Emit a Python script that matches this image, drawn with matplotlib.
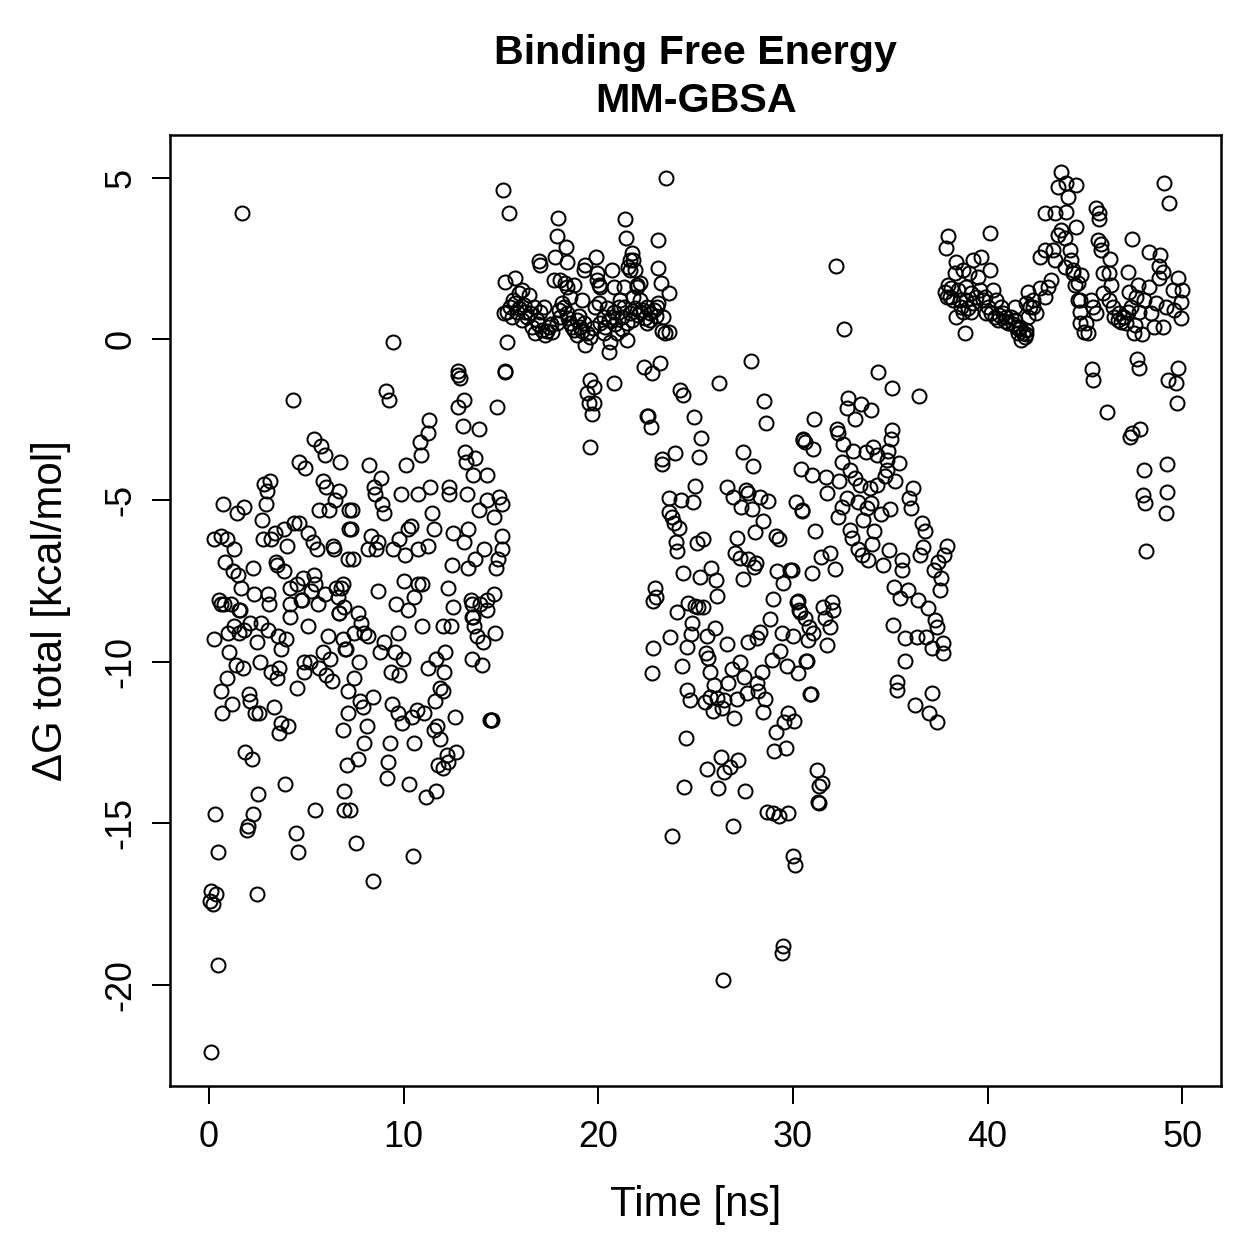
import matplotlib
matplotlib.use("Agg")
import matplotlib.pyplot as plt

# MM-GBSA binding free energy per frame
# (time in ns, dG in kcal/mol), split in the four phases of the trajectory

# 0 - 7 ns
fase1 = [
    (0.10, -22.1), (0.46, -19.4), (0.10, -17.1), (0.36, -17.2), (0.05, -17.4), (0.21, -17.5), (2.46, -17.2), (0.46, -15.9),
    (0.31, -14.7), (1.95, -15.2), (2.00, -15.1), (2.26, -14.7), (2.51, -14.1), (3.90, -13.8), (4.46, -15.3), (4.56, -15.9),
    (5.44, -14.6), (1.85, -12.8), (2.21, -13.0), (0.67, -11.6), (1.18, -11.3), (0.62, -10.9), (0.92, -10.5), (2.05, -11.0),
    (2.10, -11.2), (2.36, -11.6), (2.56, -11.6), (3.33, -11.4), (3.69, -11.9), (4.05, -12.0), (3.59, -12.2), (4.51, -10.8),
    (0.26, -9.3), (1.03, -9.7), (1.38, -10.1), (1.74, -10.2), (2.62, -10.0), (3.18, -10.3), (3.49, -10.5), (3.59, -10.2),
    (3.69, -9.6), (3.95, -9.3), (3.54, -9.2), (3.03, -9.0), (2.67, -8.8), (2.46, -9.4), (2.10, -8.8), (1.79, -9.0),
    (1.54, -9.1), (1.28, -8.9), (0.97, -9.1), (1.54, -8.4), (1.13, -8.2), (0.62, -8.2), (3.08, -8.2), (4.15, -8.2),
    (4.15, -8.6), (4.72, -8.1), (5.08, -8.9), (4.87, -10.0), (4.87, -10.3), (5.18, -10.0), (5.64, -10.2), (6.00, -10.4),
    (6.31, -10.6), (5.85, -9.7), (6.21, -9.9), (6.10, -9.2), (5.59, -8.2), (6.67, -8.5), (6.92, -8.3), (6.87, -9.3),
    (6.97, -9.6), (7.13, -10.9), (7.13, -11.6), (6.87, -12.1), (7.08, -13.2), (6.92, -14.0), (6.92, -14.6), (1.69, 3.9),
    (4.31, -1.9), (5.38, -3.1), (5.74, -3.3), (5.95, -3.6), (6.72, -3.8), (4.62, -3.8), (4.92, -4.0), (5.85, -4.4),
    (6.00, -4.6), (6.67, -4.7), (6.46, -5.0), (3.13, -4.4), (2.82, -4.5), (2.97, -4.7), (2.92, -5.1), (2.72, -5.6),
    (0.72, -5.1), (1.79, -5.2), (1.44, -5.4), (5.64, -5.3), (6.15, -5.3), (7.18, -5.3), (7.18, -5.9), (0.26, -6.2),
    (0.62, -6.1), (0.92, -6.2), (1.28, -6.5), (2.77, -6.2), (3.18, -6.2), (3.38, -6.0), (3.85, -5.9), (4.00, -6.4),
    (4.36, -5.7), (4.62, -5.7), (5.08, -6.0), (5.33, -6.3), (5.54, -6.5), (6.36, -6.4), (6.41, -6.5), (7.13, -6.8),
    (0.82, -6.9), (1.23, -7.2), (1.49, -7.3), (2.26, -7.1), (3.44, -6.9), (3.49, -7.0), (3.85, -7.2), (4.15, -7.7),
    (4.51, -7.6), (4.82, -7.4), (5.38, -7.3), (5.44, -7.6), (1.64, -7.7), (2.31, -7.9), (3.03, -7.9), (0.51, -8.1),
    (0.77, -8.2), (1.59, -8.4), (4.77, -8.1), (5.23, -7.8), (5.95, -7.9), (6.62, -8.0), (6.51, -7.7), (6.77, -7.7),
    (6.67, -8.5),
]

# 7 - 15 ns
fase1b = [
    (7.44, -9.1), (7.95, -9.1), (8.15, -9.2), (7.03, -9.6), (7.69, -10.0), (7.44, -10.5), (7.74, -11.2), (7.90, -11.4),
    (8.41, -11.1), (8.10, -12.0), (7.95, -12.5), (7.64, -13.0), (7.23, -14.6), (7.54, -15.6), (8.41, -16.8), (9.69, -9.1),
    (8.97, -9.4), (8.77, -9.7), (9.54, -9.7), (9.95, -9.9), (9.33, -10.3), (9.74, -10.4), (9.38, -11.3), (9.69, -11.6),
    (9.90, -11.9), (10.41, -11.7), (10.67, -11.5), (11.03, -11.6), (9.28, -12.5), (9.18, -13.1), (9.13, -13.6), (10.26, -13.8),
    (10.56, -12.5), (10.46, -16.0), (11.23, -10.2), (11.64, -9.9), (12.15, -9.7), (12.10, -10.3), (11.85, -10.8), (12.05, -10.9),
    (11.59, -11.2), (11.54, -12.1), (11.74, -12.0), (11.85, -12.4), (12.62, -11.7), (12.21, -12.9), (12.67, -12.8), (12.26, -13.1),
    (11.79, -13.2), (12.00, -13.3), (11.69, -14.0), (11.13, -14.2), (13.54, -9.9), (14.05, -10.1), (13.59, -8.6), (13.64, -8.9),
    (13.79, -9.2), (14.10, -9.4), (13.54, -8.2), (14.31, -8.4), (14.72, -9.1), (14.51, -11.8), (14.46, -11.8), (14.56, -11.8),
    (10.97, -8.9), (12.00, -8.9), (12.46, -8.9), (12.56, -8.3), (10.21, -8.4), (9.59, -8.2), (7.64, -8.5), (7.79, -8.8),
    (6.87, -7.6), (8.67, -7.8), (10.00, -7.5), (10.72, -7.6), (10.97, -7.6), (10.56, -8.0), (12.26, -7.7), (13.44, -8.1),
    (13.95, -8.2), (14.31, -8.1), (14.67, -7.9), (13.54, -8.6), (7.38, -6.8), (8.31, -6.1), (8.67, -6.3), (8.15, -6.5),
    (8.56, -6.5), (9.44, -6.5), (9.79, -6.2), (10.05, -6.7), (10.21, -5.9), (10.36, -5.8), (10.72, -6.5), (11.28, -6.4),
    (11.54, -5.9), (12.56, -6.0), (13.08, -6.3), (13.33, -5.9), (12.51, -7.0), (13.33, -7.1), (13.69, -6.8), (14.15, -6.5),
    (15.08, -6.1), (15.08, -6.5), (14.87, -6.8), (14.77, -7.1), (7.33, -5.3), (7.28, -5.9), (8.21, -3.9), (8.82, -4.3),
    (8.46, -4.6), (8.51, -4.8), (8.87, -5.1), (8.97, -5.4), (9.85, -4.8), (10.72, -4.8), (11.38, -4.6), (12.31, -4.6),
    (12.31, -4.8), (13.28, -4.8), (14.26, -5.0), (14.92, -4.9), (15.03, -5.1), (13.85, -5.3), (14.62, -5.5), (11.44, -5.4),
    (10.10, -3.9), (9.44, -0.1), (9.08, -1.6), (9.23, -1.9), (12.77, -1.0), (12.82, -1.1), (12.92, -1.2), (12.82, -2.1),
    (13.08, -1.9), (11.33, -2.5), (11.23, -2.9), (10.82, -3.2), (10.92, -3.6), (13.03, -2.7), (13.85, -2.8), (13.13, -3.5),
    (13.23, -3.8), (13.69, -3.7), (13.59, -4.2), (14.31, -4.2), (14.82, -2.1), (15.23, -1.0), (15.33, -0.1),
]

# 15 - 24 ns (bound state)
fase2 = [
    (15.13, 4.6), (15.44, 3.9), (15.23, 1.75), (15.74, 1.88), (15.31, 0.85), (15.14, 0.80), (15.49, 1.0), (15.74, 1.1),
    (15.91, 1.42), (16.08, 1.52), (16.43, 1.36), (15.57, 0.69), (15.83, 0.85), (16.17, 1.05), (16.34, 0.69), (16.51, 0.8),
    (16.08, 0.59), (16.68, 1.0), (17.02, 0.85), (17.19, 1.0), (16.85, 0.59), (16.60, 0.38), (16.77, 0.18), (17.11, 0.28),
    (17.28, 0.12), (17.45, 0.38), (17.62, 0.23), (17.88, 0.49), (18.05, 0.69), (18.22, 1.0), (18.39, 0.8), (18.56, 0.49),
    (18.73, 0.28), (18.90, 0.59), (19.08, 0.38), (19.25, 0.49), (19.42, 0.18), (19.59, 0.07), (19.33, -0.19), (18.90, 0.12),
    (18.65, 0.38), (19.93, 1.83), (20.10, 1.62), (20.02, 1.11), (19.84, 1.0), (20.27, 0.69), (20.10, 0.49), (20.36, 0.38),
    (20.53, 0.59), (20.70, 0.69), (20.27, 0.18), (20.61, -0.08), (20.53, -0.39), (20.96, 0.18), (20.79, 0.85), (21.04, 1.0),
    (21.13, 1.21), (21.30, 1.0), (21.21, 0.69), (21.47, 0.49), (21.47, -0.03), (21.64, 0.8), (21.81, 1.31), (21.98, 1.62),
    (22.15, 1.21), (22.32, 0.9), (22.49, 1.0), (22.67, 0.8), (22.84, 0.9), (22.49, 0.49), (23.01, 1.0), (23.09, 1.11),
    (23.35, 0.69), (23.43, 0.18), (23.61, 0.23), (22.67, 0.59), (22.15, 0.85), (21.90, 0.95), (21.64, 2.14), (21.55, 2.24),
    (21.61, 2.45), (18.56, 1.31), (19.16, 1.21), (18.14, 1.11), (18.39, 1.62), (18.73, 1.67), (18.05, 1.83), (17.71, 1.83),
    (18.31, 1.72), (20.02, 1.67), (20.79, 1.62), (21.30, 1.62), (21.98, 1.67), (22.15, 1.72), (23.09, 2.19), (23.23, 1.72),
    (23.61, 1.41), (17.79, 2.53), (18.39, 2.37), (16.94, 2.42), (16.99, 2.29), (19.90, 2.53), (19.30, 2.29), (19.25, 2.14),
    (20.70, 2.14), (19.93, 2.03), (21.73, 2.65), (21.81, 2.45), (21.90, 2.14), (17.88, 3.19), (18.36, 2.84), (21.40, 3.14),
    (23.09, 3.07), (17.93, 3.76), (21.38, 3.71), (23.49, 4.98), (15.60, 1.20), (15.95, 0.95), (16.25, 0.85), (16.90, 0.45),
    (17.35, 0.25), (17.55, 0.45), (18.00, 0.90), (18.45, 0.65), (19.00, 0.70), (19.15, 0.25), (19.75, 0.35), (20.45, 0.95),
    (20.85, 0.45), (21.20, 0.30), (21.75, 0.60), (22.05, 0.75), (22.40, 0.65), (22.95, 0.70), (23.25, 0.25), (15.23, -1.01),
    (19.59, -1.27), (19.76, -1.48), (19.42, -1.68), (19.50, -1.99), (19.79, -1.99), (19.67, -2.33), (19.59, -3.36), (20.82, -1.37),
    (22.36, -0.88), (22.75, -1.06), (23.18, -0.73), (22.53, -2.39), (22.70, -2.72), (23.26, -3.73),
]

# 23.5 - 38 ns (unbinding)
fase3 = [
    (27.85, -0.68), (26.21, -1.36), (28.51, -1.92), (28.62, -2.60), (24.92, -2.42), (25.28, -3.07), (27.44, -3.50), (27.95, -3.93),
    (30.51, -3.13), (30.41, -4.03), (24.97, -4.55), (26.62, -4.58), (23.64, -4.93), (24.26, -4.99), (24.87, -5.05), (26.92, -4.89),
    (27.59, -4.68), (27.69, -4.77), (28.31, -4.89), (28.72, -5.02), (27.33, -5.20), (27.90, -5.27), (28.46, -5.64), (30.15, -5.05),
    (30.46, -5.33), (23.64, -5.36), (23.79, -5.51), (23.90, -5.70), (24.15, -5.86), (28.05, -5.98), (29.13, -6.10), (29.28, -6.20),
    (27.13, -6.16), (25.08, -6.32), (25.38, -6.20), (24.00, -6.29), (24.05, -6.57), (27.03, -6.63), (27.28, -6.78), (27.69, -6.82),
    (28.10, -6.94), (28.00, -7.06), (25.79, -7.09), (25.23, -7.37), (26.05, -7.47), (27.44, -7.43), (24.36, -7.25), (29.18, -7.19),
    (29.85, -7.16), (29.49, -7.56), (26.10, -7.96), (28.97, -8.05), (22.92, -7.71), (22.97, -7.99), (22.82, -8.12), (30.26, -8.12),
    (24.05, -8.46), (24.62, -8.18), (24.97, -8.27), (25.13, -8.30), (25.38, -8.30), (30.36, -8.46), (24.82, -8.80), (26.00, -8.95),
    (23.69, -9.23), (24.77, -9.14), (25.59, -9.20), (28.31, -9.08), (28.82, -8.67), (29.44, -9.11), (30.00, -9.20), (26.62, -9.45),
    (27.69, -9.39), (28.15, -9.26), (22.82, -9.57), (24.56, -9.54), (25.54, -9.73), (25.64, -9.88), (29.33, -9.67), (28.92, -9.94),
    (30.67, -9.98), (24.31, -10.13), (29.69, -10.13), (30.26, -10.35), (22.77, -10.35), (25.74, -10.32), (26.87, -10.22), (27.28, -10.01),
    (27.49, -10.47), (28.41, -10.32), (26.67, -10.66), (28.15, -10.66), (25.95, -10.72), (24.56, -10.87), (27.64, -10.97), (24.72, -11.18),
    (25.49, -11.25), (25.74, -11.09), (26.10, -11.12), (26.46, -11.18), (25.90, -11.52), (26.36, -11.43), (27.13, -11.15), (28.21, -10.90),
    (28.56, -11.15), (28.46, -11.56), (26.97, -11.74), (29.74, -11.59), (29.54, -11.87), (30.05, -11.83), (29.13, -12.17), (24.51, -12.36),
    (29.64, -12.67), (29.03, -12.76), (26.31, -12.95), (27.18, -13.04), (25.59, -13.32), (26.46, -13.41), (26.77, -13.26), (24.41, -13.88),
    (26.15, -13.91), (27.54, -14.00), (28.67, -14.65), (28.97, -14.68), (29.28, -14.78), (29.74, -14.68), (26.92, -15.09), (23.79, -15.40),
    (26.41, -19.86), (29.49, -18.80), (29.44, -19.02), (30.00, -16.02), (30.10, -16.29), (31.23, -13.35), (31.49, -13.75), (31.33, -13.85),
    (31.28, -14.34), (31.33, -14.37), (30.87, -11.00), (23.28, -3.87), (23.95, -3.53), (24.21, -1.58), (24.36, -1.73), (22.51, -2.39),
    (25.18, -3.66),
    (32.21, 2.26), (32.62, 0.31), (34.36, -1.02), (35.08, -1.52), (36.46, -1.77), (32.82, -1.83), (32.77, -2.14), (33.49, -2.01),
    (34.00, -2.20), (33.18, -2.48), (31.08, -2.48), (32.26, -2.79), (32.31, -2.91), (35.08, -2.82), (35.03, -3.10), (30.51, -3.10),
    (30.62, -3.19), (31.03, -3.41), (32.56, -3.25), (33.08, -3.47), (33.74, -3.50), (34.10, -3.35), (34.31, -3.59), (34.87, -3.47),
    (34.82, -3.75), (35.44, -3.84), (32.51, -3.81), (32.92, -4.06), (30.97, -4.21), (31.69, -4.28), (32.36, -4.40), (33.18, -4.31),
    (33.44, -4.52), (33.95, -4.62), (34.31, -4.52), (34.72, -4.24), (34.82, -4.06), (35.23, -4.40), (36.15, -4.62), (35.95, -4.93),
    (36.05, -5.24), (31.74, -4.77), (30.46, -5.30), (31.13, -5.95), (32.77, -4.93), (32.51, -5.20), (32.31, -5.51), (33.33, -5.05),
    (33.79, -5.24), (34.00, -5.08), (34.51, -5.42), (34.97, -5.27), (34.15, -5.95), (32.92, -5.92), (33.59, -5.61), (33.03, -6.16),
    (33.33, -6.51), (33.54, -6.69), (33.85, -6.85), (34.05, -6.35), (34.62, -7.00), (34.92, -6.54), (36.62, -5.70), (36.77, -5.95),
    (36.67, -6.44), (36.51, -6.69), (37.90, -6.41), (37.74, -6.69), (37.44, -6.91), (31.90, -6.63), (31.44, -6.75), (32.15, -7.13),
    (30.97, -7.25), (29.95, -7.16), (35.59, -6.85), (35.59, -7.16), (35.18, -7.68), (35.90, -7.78), (35.49, -8.02), (36.41, -8.09),
    (36.92, -8.33), (37.23, -7.16), (37.59, -7.40), (37.54, -7.78), (37.28, -8.70), (37.38, -8.92), (35.13, -8.86), (35.74, -9.26),
    (36.36, -9.23), (36.82, -9.23), (37.13, -9.57), (37.69, -9.42), (37.69, -9.73), (35.74, -9.98), (35.33, -10.63), (35.33, -10.87),
    (36.26, -11.34), (37.13, -10.97), (36.97, -11.59), (37.38, -11.86), (30.21, -8.15), (30.31, -8.40), (30.62, -8.64), (30.82, -8.92),
    (31.54, -8.30), (32.00, -8.15), (32.05, -8.40), (31.64, -8.64), (31.90, -8.92), (31.03, -9.11), (30.77, -9.32), (31.74, -9.48),
    (30.72, -9.98), (30.92, -11.00),
]

# 38 - 50 ns (rebinding)
fase4 = [
    (37.97, 3.19), (37.88, 2.81), (40.14, 3.27), (38.36, 2.40), (39.25, 2.45), (39.68, 2.55), (40.11, 2.14), (38.31, 2.03),
    (38.74, 2.14), (39.05, 2.03), (39.51, 1.93), (37.97, 1.67), (38.06, 1.31), (38.48, 1.52), (38.91, 1.62), (39.17, 1.42),
    (39.59, 1.52), (39.85, 1.31), (40.28, 1.52), (40.45, 1.21), (38.40, 0.69), (38.82, 0.18), (38.74, 0.85), (39.17, 0.85),
    (39.94, 0.80), (40.71, 1.0), (40.96, 0.69), (41.39, 1.0), (41.39, 0.59), (41.65, 0.38), (41.82, 0.18), (41.73, -0.03),
    (41.99, 0.28), (42.07, 1.47), (41.99, 1.11), (42.33, 1.0), (42.50, 0.80), (42.67, 1.57), (42.93, 1.31), (43.10, 1.62),
    (43.27, 1.83), (42.67, 2.55), (42.93, 2.76), (43.35, 2.76), (43.44, 2.45), (43.61, 3.22), (43.78, 3.38), (43.95, 3.12),
    (42.93, 3.89), (43.44, 3.89), (44.04, 3.94), (43.78, 5.18), (43.61, 4.72), (44.04, 4.82), (44.55, 4.77), (44.12, 4.41),
    (44.21, 2.76), (44.29, 2.45), (43.95, 2.24), (44.38, 2.03), (44.55, 3.48), (44.47, 1.67), (44.64, 1.21), (44.72, 0.85),
    (44.76, 0.49), (37.80, 1.47), (37.90, 1.31), (38.14, 1.57), (38.23, 1.21), (38.57, 1.21), (38.65, 1.0), (38.91, 1.21),
    (39.00, 0.95), (39.25, 1.11), (39.42, 1.31), (39.76, 1.21), (40.02, 1.0), (40.19, 0.8), (40.36, 0.69), (40.53, 0.59),
    (40.79, 0.8), (41.05, 0.49), (41.22, 0.69), (41.47, 0.38), (41.56, 0.18), (41.90, 0.07), (42.07, 0.69), (42.16, 1.0),
    (42.33, 1.21), (41.30, 0.45), (41.60, 0.30), (41.95, 0.15), (40.90, 0.55), (40.60, 0.75), (49.08, 4.84), (49.33, 4.22),
    (45.57, 4.05), (45.71, 3.89), (45.74, 3.71), (45.66, 3.07), (45.83, 2.94), (45.83, 2.76), (46.29, 2.47), (47.42, 3.09),
    (48.27, 2.71), (48.85, 2.60), (48.82, 2.26), (48.99, 2.09), (48.78, 1.88), (49.76, 1.88), (49.50, 1.52), (50.01, 1.52),
    (49.93, 1.16), (49.93, 0.64), (47.19, 2.06), (45.91, 2.03), (46.25, 2.03), (46.34, 1.67), (47.71, 1.67), (48.27, 1.62),
    (47.28, 1.47), (47.62, 1.31), (48.05, 1.21), (48.65, 1.11), (49.16, 1.0), (49.59, 0.90), (46.77, 0.80), (46.94, 0.69),
    (46.68, 0.59), (47.79, 0.85), (47.59, 0.43), (47.93, 0.15), (47.54, 0.20), (48.56, 0.38), (48.99, 0.38), (48.39, 0.80),
    (45.06, 0.49), (44.97, 0.23), (45.14, 0.18), (44.72, 1.21), (44.63, 1.72), (44.80, 1.98), (44.37, 2.14), (45.31, 1.21),
    (45.40, 1.0), (45.57, 0.80), (45.91, 1.42), (46.25, 1.21), (46.42, 1.0), (46.51, 0.69), (46.85, 0.54), (47.02, 0.69),
    (47.19, 0.85), (47.36, 1.0), (47.11, 0.49), (45.35, -0.93), (45.40, -1.27), (47.66, -0.63), (47.76, -0.91), (46.13, -2.27),
    (49.76, -0.91), (49.25, -1.27), (49.67, -1.37), (49.71, -1.99), (47.84, -2.80), (47.42, -2.90), (47.31, -3.03), (48.05, -4.06),
    (49.24, -3.87), (47.96, -4.83), (48.10, -5.07), (49.19, -4.73), (49.16, -5.40), (48.13, -6.56),
]

fases = fase1 + fase1b + fase2 + fase3 + fase4
tempo = [p[0] for p in fases]
dG = [p[1] for p in fases]

plt.rcParams['font.family'] = ['Liberation Sans', 'DejaVu Sans']
plt.rcParams['axes.unicode_minus'] = False

fig = plt.figure(figsize=(1259 / 180, 1259 / 180), dpi=180)
ax = fig.add_axes([0.135, 0.1374, 0.835, 0.7554])

ax.plot(tempo, dG, linestyle='none', marker='o', markersize=5.6,
        markerfacecolor='none', markeredgecolor='black', markeredgewidth=0.8)

ax.set_xlim(-2, 52)
ax.set_ylim(-23.14, 6.32)
ax.set_xticks([0, 10, 20, 30, 40, 50])
ax.set_yticks([-20, -15, -10, -5, 0, 5])
ax.tick_params(direction='out', length=7.2, width=0.8, labelsize=14.4)
ax.tick_params(axis='x', pad=6.5)
ax.tick_params(axis='y', pad=5.5)
for lab in ax.get_yticklabels():
    lab.set_rotation(90)
    lab.set_va('center')
for s in ax.spines.values():
    s.set_linewidth(1.0)

ax.set_title("Binding Free Energy\nMM-GBSA", fontsize=16.5, fontweight='bold',
             linespacing=1.35, pad=9)
ax.set_xlabel("Time [ns]", fontsize=16.8, labelpad=12)
ax.set_ylabel("ΔG total [kcal/mol]", fontsize=16.8, labelpad=13)

plt.savefig("out.png", dpi=180)
plt.close()
